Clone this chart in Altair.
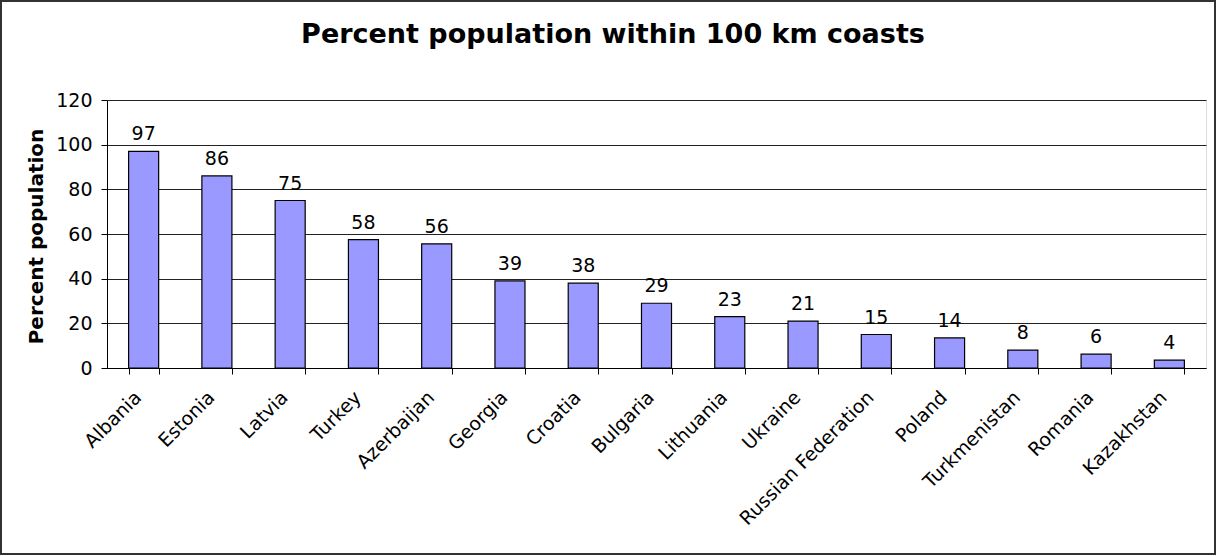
import altair as alt
import pandas as pd

countries = ["Albania", "Estonia", "Latvia", "Turkey", "Azerbaijan", "Georgia", "Croatia",
             "Bulgaria", "Lithuania", "Ukraine", "Russian Federation", "Poland",
             "Turkmenistan", "Romania", "Kazakhstan"]
values = [97, 86, 75, 57.5, 55.6, 39, 38, 29, 23, 21, 15, 13.5, 8, 6.2, 3.5]
title_text = ["Percent population within 100 km coasts"]

df = pd.DataFrame({"country": countries, "value": values})
tdf = pd.DataFrame({"t": title_text})

FONT = "DejaVu Sans"
W, H = 1099, 268
FS = 19

base = alt.Chart(df)

x = alt.X("country:N", sort=countries, title=None,
          scale=alt.Scale(paddingInner=0.59, paddingOuter=0.295),
          axis=alt.Axis(labelAngle=-45, labelAlign="right", labelBaseline="middle",
                        labelPadding=20, labelOffset=-6, labelFontSize=FS, labelFont=FONT,
                        labelColor="black", labelLimit=400, tickBand="extent", tickSize=6,
                        tickColor="black", domainColor="black", labelOverlap=False,
                        grid=False))

bars = base.mark_bar(fill="#9999FF", stroke="black", strokeWidth=1.2).encode(
    x=x,
    y=alt.Y("value:Q", title="Percent population",
            scale=alt.Scale(domain=[0, 120], nice=False),
            axis=alt.Axis(values=[0, 20, 40, 60, 80, 100, 120], labelFontSize=FS,
                          labelFont=FONT, labelColor="black", labelPadding=9,
                          titleFont=FONT, titleFontSize=20, titleFontWeight="bold",
                          titleColor="black", titleX=-65, titleY=136, titleAngle=-90,
                          titleAlign="center", titleBaseline="alphabetic",
                          tickSize=6, tickColor="black",
                          domainColor="black", gridColor="#222", gridWidth=1)),
)

labels = base.mark_text(baseline="alphabetic", dy=-11, fontSize=FS, font=FONT,
                        color="black").encode(
    x=alt.X("country:N", sort=countries),
    y="value:Q",
    text=alt.Text("value:Q", format=".0f"),
)

title = alt.Chart(tdf).mark_text(fontSize=27, font=FONT, fontWeight="bold", color="black",
                                 align="center", baseline="alphabetic").encode(
    x=alt.value(506), y=alt.value(-57), text="t:N"
)

border = alt.Chart(df).mark_rect(fill=None, stroke="#333", strokeWidth=1.5, clip=False).encode(
    x=alt.value(-106), x2=alt.value(1108), y=alt.value(-99), y2=alt.value(454)
)

chart = alt.layer(bars, labels, title, border).properties(
    width=W, height=H,
    autosize=alt.AutoSizeParams(type="none"),
    padding={"left": 107, "top": 100, "right": 11, "bottom": 188},
).configure_view(stroke="#888", strokeWidth=1).configure(background="white")

chart.save("out.html", embed_options={"renderer": "svg", "actions": False})
